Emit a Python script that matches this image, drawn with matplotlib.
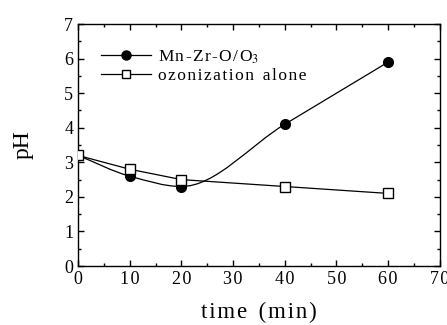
import matplotlib
matplotlib.use("Agg")
import matplotlib.pyplot as plt
from matplotlib.path import Path
from matplotlib.patches import PathPatch
from matplotlib.lines import Line2D
from matplotlib.ticker import FuncFormatter
import numpy as np

plt.rcParams['font.family'] = ['Liberation Serif', 'DejaVu Serif']
plt.rcParams['mathtext.fontset'] = 'stix'

# data
time = [0, 10, 20, 40, 60]
ph_mnzro = [3.2, 2.6, 2.3, 4.1, 5.9]
ph_ozone = [3.2, 2.8, 2.5, 2.3, 2.1]

HS = '\u200a'  # hair space, mimics the wide letter spacing


def spaced(s):
    return HS.join(s)


def smooth_path(x, y):
    # monotone cubic (pchip-like) drawn as bezier segments through the points
    x = np.asarray(x, float)
    y = np.asarray(y, float)
    n = len(x)
    d = np.diff(y) / np.diff(x)
    m = np.zeros(n)
    m[0], m[-1] = d[0], d[-1]
    for i in range(1, n - 1):
        if d[i - 1] * d[i] > 0:
            m[i] = 2.0 / (1.0 / d[i - 1] + 1.0 / d[i])
    verts = [(x[0], y[0])]
    codes = [Path.MOVETO]
    for i in range(n - 1):
        h = x[i + 1] - x[i]
        verts += [(x[i] + h / 3, y[i] + m[i] * h / 3),
                  (x[i + 1] - h / 3, y[i + 1] - m[i + 1] * h / 3),
                  (x[i + 1], y[i + 1])]
        codes += [Path.CURVE4] * 3
    return Path(verts, codes)


fig = plt.figure(figsize=(4.47, 3.25), dpi=100)
ax = fig.add_axes([0.1745, 0.1815, 0.8095, 0.7445])

ax.add_patch(PathPatch(smooth_path(time, ph_mnzro), fill=False, lw=0.9, color='black'))
ax.plot(time, ph_mnzro, 'o', color='black', ms=7, zorder=3)
ax.plot(time, ph_ozone, '-', color='black', lw=0.9)
ax.plot(time, ph_ozone, 's', mfc='white', mec='black', ms=7, mew=1.0, zorder=3)

ax.set_xlim(0, 70)
ax.set_ylim(0, 7)
ax.set_xticks(range(0, 71, 10))
ax.set_yticks(range(0, 8))
ax.set_xticks(range(5, 70, 10), minor=True)
ax.set_yticks(np.arange(0.5, 7, 1.0), minor=True)
ax.xaxis.set_major_formatter(FuncFormatter(lambda v, p: spaced('%d' % v)))
ax.tick_params(which='both', direction='in', top=True, right=True, labelsize=13)
ax.tick_params(which='major', length=4, width=1)
ax.tick_params(which='minor', length=2, width=1)
for s in ax.spines.values():
    s.set_linewidth(1.0)

ax.set_xlabel(spaced('time') + '  ' + spaced('(min)'), fontsize=16.5, labelpad=10)
ax.set_ylabel('pH', fontsize=17, labelpad=22)

h1 = Line2D([], [], color='black', lw=0.9, marker='o', ms=6.5)
h2 = Line2D([], [], color='black', lw=0.9, marker='s', mfc='white', mec='black', ms=6)
lab1 = spaced('Mn-Zr-O/O') + '$_3$'
lab2 = spaced('ozonization') + '  ' + spaced('alone')
ax.legend([h1, h2], [lab1, lab2], loc='upper left',
          frameon=False, fontsize=12.5, handlelength=2.9, bbox_to_anchor=(0.02, 0.965),
          labelspacing=0.12, handletextpad=0.4)

fig.savefig('out.png', dpi=100)
